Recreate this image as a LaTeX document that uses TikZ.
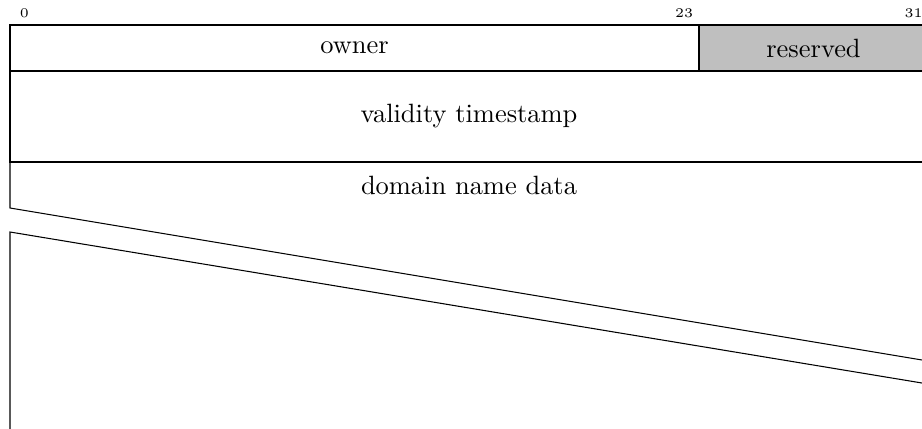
\documentclass[tikz,border=0pt]{standalone}
\begin{document}
\begin{tikzpicture}[x=0.3781pt,y=-0.3781pt,
  fld/.style={draw=black,line width=0.4pt},
  lbl/.style={font=\normalsize,inner sep=0pt},
  bitnum/.style={font=\tiny,inner sep=0pt}]
\useasboundingbox (0,0) rectangle (922,428);
\clip (0,0) rectangle (922,428);
% bit numbers
\node[bitnum] (b0) at (24.35,13) {0};
\node[bitnum] (b23) at (684,13) {23};
\node[bitnum] (b31) at (913.5,13) {31};
% row 1
\fill[black!25] (699,25) rectangle (928,71);
\draw[fld] (10,25) rectangle (928,71);
\draw[fld] (699,25) -- (699,71);
\node[lbl] (owner) at (354.5,48) {owner};
\node[lbl] (res) at (813.5,48) {reserved};
% row 2
\draw[fld] (10,71) -- (10,162) -- (928,162) -- (928,71);
\node[lbl] (valid) at (469,116.5) {validity timestamp};
% row 3 with skipped words
\draw[fld] (10,162) -- (10,208) -- (928,361) -- (928,162);
\node[lbl] (dom) at (469,185) {domain name data};
\draw[fld] (10,440) -- (10,232) -- (928,384) -- (928,440);
\end{tikzpicture}
\end{document}
